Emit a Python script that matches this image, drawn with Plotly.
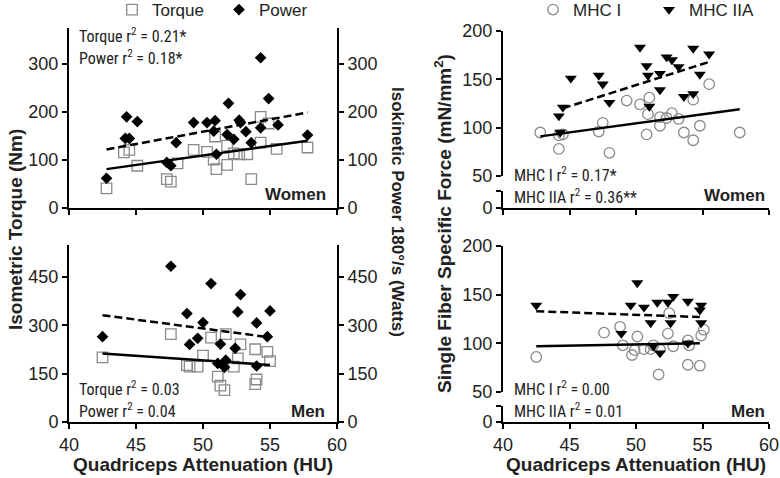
import plotly.graph_objects as go

# ---------------- data ----------------
# Women: isometric torque (Nm) and isokinetic power (W) vs quadriceps attenuation (HU)
torque_w_hu = [42.8, 44.1, 44.5, 45.1, 47.3, 47.6, 48.1, 49.3, 50.3, 50.8, 50.9, 51.0,
               51.8, 51.8, 52.3, 52.7, 53.3, 53.6, 54.3, 54.3, 54.9, 55.5, 57.8]
torque_w = [41, 116, 121, 88, 60, 55, 93, 121, 117, 101, 149, 81,
            130, 90, 114, 112, 112, 60, 190, 136, 176, 123, 126]
power_w_hu = [42.8, 44.3, 44.2, 44.5, 45.1, 47.3, 47.6, 48.0, 49.3, 50.3, 50.9, 50.8, 51.0,
              51.9, 51.8, 52.3, 52.7, 52.8, 53.2, 53.6, 54.3, 54.3, 54.9, 55.6, 57.8]
power_w = [62, 190, 145, 145, 180, 95, 88, 136, 178, 178, 182, 160, 112,
           218, 153, 143, 183, 178, 159, 136, 313, 167, 228, 173, 152]
torque_w_fit_hu = [42.8, 57.8]
torque_w_fit = [81, 140]
power_w_fit_hu = [42.8, 57.8]
power_w_fit = [122, 199]

# Men
torque_m_hu = [42.5, 47.6, 48.8, 49.0, 49.6, 50.0, 50.6, 51.1, 51.3, 51.6, 51.7, 52.3,
               52.6, 52.8, 53.9, 53.9, 54.0, 54.8, 55.0]
torque_m = [201, 273, 177, 172, 172, 206, 262, 141, 113, 99, 273, 172,
            198, 241, 226, 118, 132, 218, 189]
power_m_hu = [42.5, 47.6, 48.8, 49.0, 49.6, 50.0, 50.6, 51.1, 51.3, 51.6, 51.7, 52.4,
              52.6, 52.8, 54.0, 54.0, 54.8, 55.0]
power_m = [265, 484, 337, 241, 260, 309, 430, 182, 242, 170, 192, 229,
           342, 396, 308, 174, 265, 345]
torque_m_fit_hu = [42.5, 55.0]
torque_m_fit = [213, 177]
power_m_fit_hu = [42.5, 55.0]
power_m_fit = [332, 263]

# Single fibre specific force (mN/mm^2), women
mhc1_w_hu = [42.8, 44.2, 44.5, 44.2, 47.2, 47.5, 48.0, 49.3, 50.3, 50.8, 50.9, 51.0,
             51.8, 51.8, 52.3, 52.7, 53.2, 53.6, 54.3, 54.3, 54.8, 55.5, 57.8]
mhc1_w = [95, 92, 93, 78, 96, 105, 74, 128, 124, 93, 114, 131,
          102, 111, 110, 115, 109, 95, 87, 129, 102, 145, 95]
mhc2a_w_hu = [44.2, 44.5, 44.3, 45.1, 47.2, 47.5, 48.0, 50.3, 50.8, 50.9, 51.0,
              51.8, 51.8, 52.3, 52.7, 53.2, 53.6, 54.3, 54.3, 54.8, 55.5]
mhc2a_w = [112, 121, 95, 151, 154, 145, 126, 183, 164, 154, 122,
           139, 156, 173, 170, 163, 132, 182, 135, 155, 176]
mhc1_w_fit_hu = [42.8, 57.8]
mhc1_w_fit = [91, 119]
mhc2a_w_fit_hu = [44.5, 55.5]
mhc2a_w_fit = [120, 168]

# men
mhc1_m_hu = [42.5, 47.6, 48.8, 49.0, 49.7, 50.1, 49.9, 50.6, 51.1, 51.3, 51.7, 51.8,
             52.4, 52.5, 52.8, 53.9, 53.9, 54.0, 54.8, 54.9, 55.1]
mhc1_m = [86, 111, 117, 98, 88, 107, 93, 94, 94, 98, 68, 94,
          110, 131, 97, 103, 78, 98, 77, 108, 114]
mhc2a_m_hu = [42.5, 48.9, 49.6, 50.1, 50.6, 51.1, 51.3, 51.6, 51.8, 52.4, 52.6, 52.8,
              53.9, 53.9, 54.8, 54.9, 54.9]
mhc2a_m = [139, 110, 139, 162, 137, 121, 97, 142, 90, 142, 121, 148,
           143, 100, 134, 139, 121]
mhc1_m_fit_hu = [42.5, 54.8]
mhc1_m_fit = [97, 100]
mhc2a_m_fit_hu = [42.5, 54.8]
mhc2a_m_fit = [133, 127]

x_ticks = [40, 45, 50, 55, 60]
y_ticks_w = [0, 100, 200, 300]
y_ticks_m = [0, 150, 300, 450]
y_ticks_force = [50, 100, 150, 200]

# ---------------- styling ----------------
W, H = 780, 478
FONT = "Liberation Sans, Arial, Helvetica, sans-serif"
NARROW = "Liberation Sans Narrow, Arial Narrow, Roboto Condensed, Liberation Sans, sans-serif"
TXT = "#222222"
GRAY = "#8a8a8a"


def px(v):
    return v / W


def py(v):
    return 1 - v / H


fig = go.Figure()


def add_scatter(x, y, xa, ya, kind, name=None, legend=None):
    if kind == "square":
        marker = dict(symbol="square-open", size=10.5, color=GRAY, line=dict(width=1.3, color=GRAY))
    elif kind == "circle":
        marker = dict(symbol="circle-open", size=10.5, color=GRAY, line=dict(width=1.3, color=GRAY))
    elif kind == "diamond":
        marker = dict(symbol="diamond", size=9, color="black")
    else:
        marker = dict(symbol="triangle-down", size=10.5, color="black")
    fig.add_trace(go.Scatter(
        x=x, y=y, xaxis=xa, yaxis=ya, mode="markers", marker=marker,
        name=name, showlegend=name is not None, legend=legend or "legend",
        hoverinfo="x+y"))


def add_line(x, y, xa, ya, dashed):
    fig.add_trace(go.Scatter(
        x=x, y=y, xaxis=xa, yaxis=ya, mode="lines",
        line=dict(color="black", width=2.5, dash="8px,4px" if dashed else "solid"),
        showlegend=False, hoverinfo="skip"))


# left top (women)
add_scatter(torque_w_hu, torque_w, "x", "y", "square", "Torque", "legend")
add_scatter(power_w_hu, power_w, "x", "y2", "diamond", "Power", "legend")
add_line(torque_w_fit_hu, torque_w_fit, "x", "y", False)
add_line(power_w_fit_hu, power_w_fit, "x", "y2", True)
# left bottom (men)
add_scatter(torque_m_hu, torque_m, "x2", "y3", "square")
add_scatter(power_m_hu, power_m, "x2", "y4", "diamond")
add_line(torque_m_fit_hu, torque_m_fit, "x2", "y3", False)
add_line(power_m_fit_hu, power_m_fit, "x2", "y4", True)
# right top (women)
add_scatter(mhc1_w_hu, mhc1_w, "x3", "y5", "circle", "MHC I", "legend2")
add_scatter(mhc2a_w_hu, mhc2a_w, "x3", "y5", "triangle", "MHC IIA", "legend2")
add_line(mhc1_w_fit_hu, mhc1_w_fit, "x3", "y5", False)
add_line(mhc2a_w_fit_hu, mhc2a_w_fit, "x3", "y5", True)
# right bottom (men)
add_scatter(mhc1_m_hu, mhc1_m, "x4", "y7", "circle")
add_scatter(mhc2a_m_hu, mhc2a_m, "x4", "y7", "triangle")
add_line(mhc1_m_fit_hu, mhc1_m_fit, "x4", "y7", False)
add_line(mhc2a_m_fit_hu, mhc2a_m_fit, "x4", "y7", True)
# empty traces so the short broken-axis segments get a subplot
for xa, ya in (("x3", "y6"), ("x4", "y8")):
    fig.add_trace(go.Scatter(x=[], y=[], xaxis=xa, yaxis=ya, mode="markers",
                             showlegend=False, hoverinfo="skip"))

common = dict(showline=True, linecolor="black", linewidth=2, ticks="outside",
              ticklen=5, tickwidth=2, tickcolor="black", showgrid=False,
              zeroline=False, automargin=False,
              tickfont=dict(family=FONT, size=18, color=TXT))

LX = [px(69), px(337)]
RX = [px(503), px(769)]

fig.update_layout(
    width=W, height=H, margin=dict(l=0, r=0, t=0, b=0, pad=0, autoexpand=False),
    paper_bgcolor="white", plot_bgcolor="rgba(0,0,0,0)",
    font=dict(family=FONT, color=TXT),
    xaxis=dict(common, domain=LX, anchor="y", range=[40, 60], tickvals=x_ticks,
               showticklabels=False),
    yaxis=dict(common, domain=[py(208), py(28)], anchor="x", range=[0, 375],
               tickvals=y_ticks_w),
    yaxis2=dict(common, overlaying="y", side="right", anchor="x", range=[0, 375],
                tickvals=y_ticks_w),
    xaxis2=dict(common, domain=LX, anchor="y3", range=[40, 60], tickvals=x_ticks),
    yaxis3=dict(common, domain=[py(422), py(245)], anchor="x2", range=[0, 550],
                tickvals=y_ticks_m),
    yaxis4=dict(common, overlaying="y3", side="right", anchor="x2", range=[0, 550],
                tickvals=y_ticks_m),
    xaxis3=dict(common, domain=RX, anchor="y6", range=[40, 60], tickvals=x_ticks,
                showticklabels=False),
    yaxis5=dict(common, domain=[py(176), py(31)], anchor="x3", range=[50, 200],
                tickvals=y_ticks_force),
    yaxis6=dict(common, domain=[py(208), py(191)], anchor="x3", range=[0, 17],
                tickvals=[0, 17], ticktext=["0", ""]),
    xaxis4=dict(common, domain=RX, anchor="y8", range=[40, 60], tickvals=x_ticks),
    yaxis7=dict(common, domain=[py(392), py(246)], anchor="x4", range=[50, 200],
                tickvals=y_ticks_force),
    yaxis8=dict(common, domain=[py(422), py(406)], anchor="x4", range=[0, 16],
                tickvals=[0, 16], ticktext=["0", ""]),
    legend=dict(orientation="h", x=px(112), y=py(10), xanchor="left", yanchor="middle",
                font=dict(family=FONT, size=17, color=TXT), bgcolor="rgba(0,0,0,0)",
                itemwidth=30, traceorder="normal", entrywidth=62,
                entrywidthmode="pixels"),
    legend2=dict(orientation="h", x=px(533), y=py(10), xanchor="left", yanchor="middle",
                 font=dict(family=FONT, size=17, color=TXT), bgcolor="rgba(0,0,0,0)",
                 itemwidth=30, traceorder="normal", entrywidth=71,
                 entrywidthmode="pixels"),
)

ann = []


def note(text, x, y, size=16, family=NARROW, xanchor="left", bold=False, angle=0):
    ann.append(dict(text=f"<b>{text}</b>" if bold else text, xref="paper", yref="paper",
                    x=px(x), y=py(y), xanchor=xanchor, yanchor="middle",
                    showarrow=False, textangle=angle,
                    font=dict(family=family, size=size, color=TXT)))


# r^2 notes
note("Torque r<sup>2</sup> = 0.21*", 77, 35)
note("Power r<sup>2</sup> = 0.18*", 77, 57)
note("Torque r<sup>2</sup> = 0.03", 77, 388)
note("Power r<sup>2</sup> = 0.04", 77, 410)
note("MHC I r<sup>2</sup> = 0.17*", 512, 174)
note("MHC IIA r<sup>2</sup> = 0.36**", 512, 196)
note("MHC I r<sup>2</sup> = 0.00", 512, 388)
note("MHC IIA r<sup>2</sup> = 0.01", 512, 410)
# sex labels
note("Women", 328, 194, size=17, family=FONT, xanchor="right", bold=True)
note("Men", 327, 411, size=17, family=FONT, xanchor="right", bold=True)
note("Women", 767, 195, size=17, family=FONT, xanchor="right", bold=True)
note("Men", 767, 411, size=17, family=FONT, xanchor="right", bold=True)
# axis titles
note("Isometric Torque (Nm)", 15, 230, size=19, family=FONT, xanchor="center", bold=True, angle=-90)
note("Isokinetic Power 180°/s (Watts)", 397, 212, size=17, family=FONT, xanchor="center", bold=True, angle=90)
note("Single Fiber Specific Force (mN/mm<sup>2</sup>)", 443, 224, size=19, family=FONT, xanchor="center", bold=True, angle=-90)
note("Quadriceps Attenuation (HU)", 202.5, 464, size=19, family=FONT, xanchor="center", bold=True)
note("Quadriceps Attenuation (HU)", 636, 464, size=19, family=FONT, xanchor="center", bold=True)

fig.update_layout(annotations=ann)
# the page's default 8px body margin would shift the 780x478 figure inside the window
fig.write_html("out.html", config={"displayModeBar": False},
               post_script="document.body.style.margin='0px';")
